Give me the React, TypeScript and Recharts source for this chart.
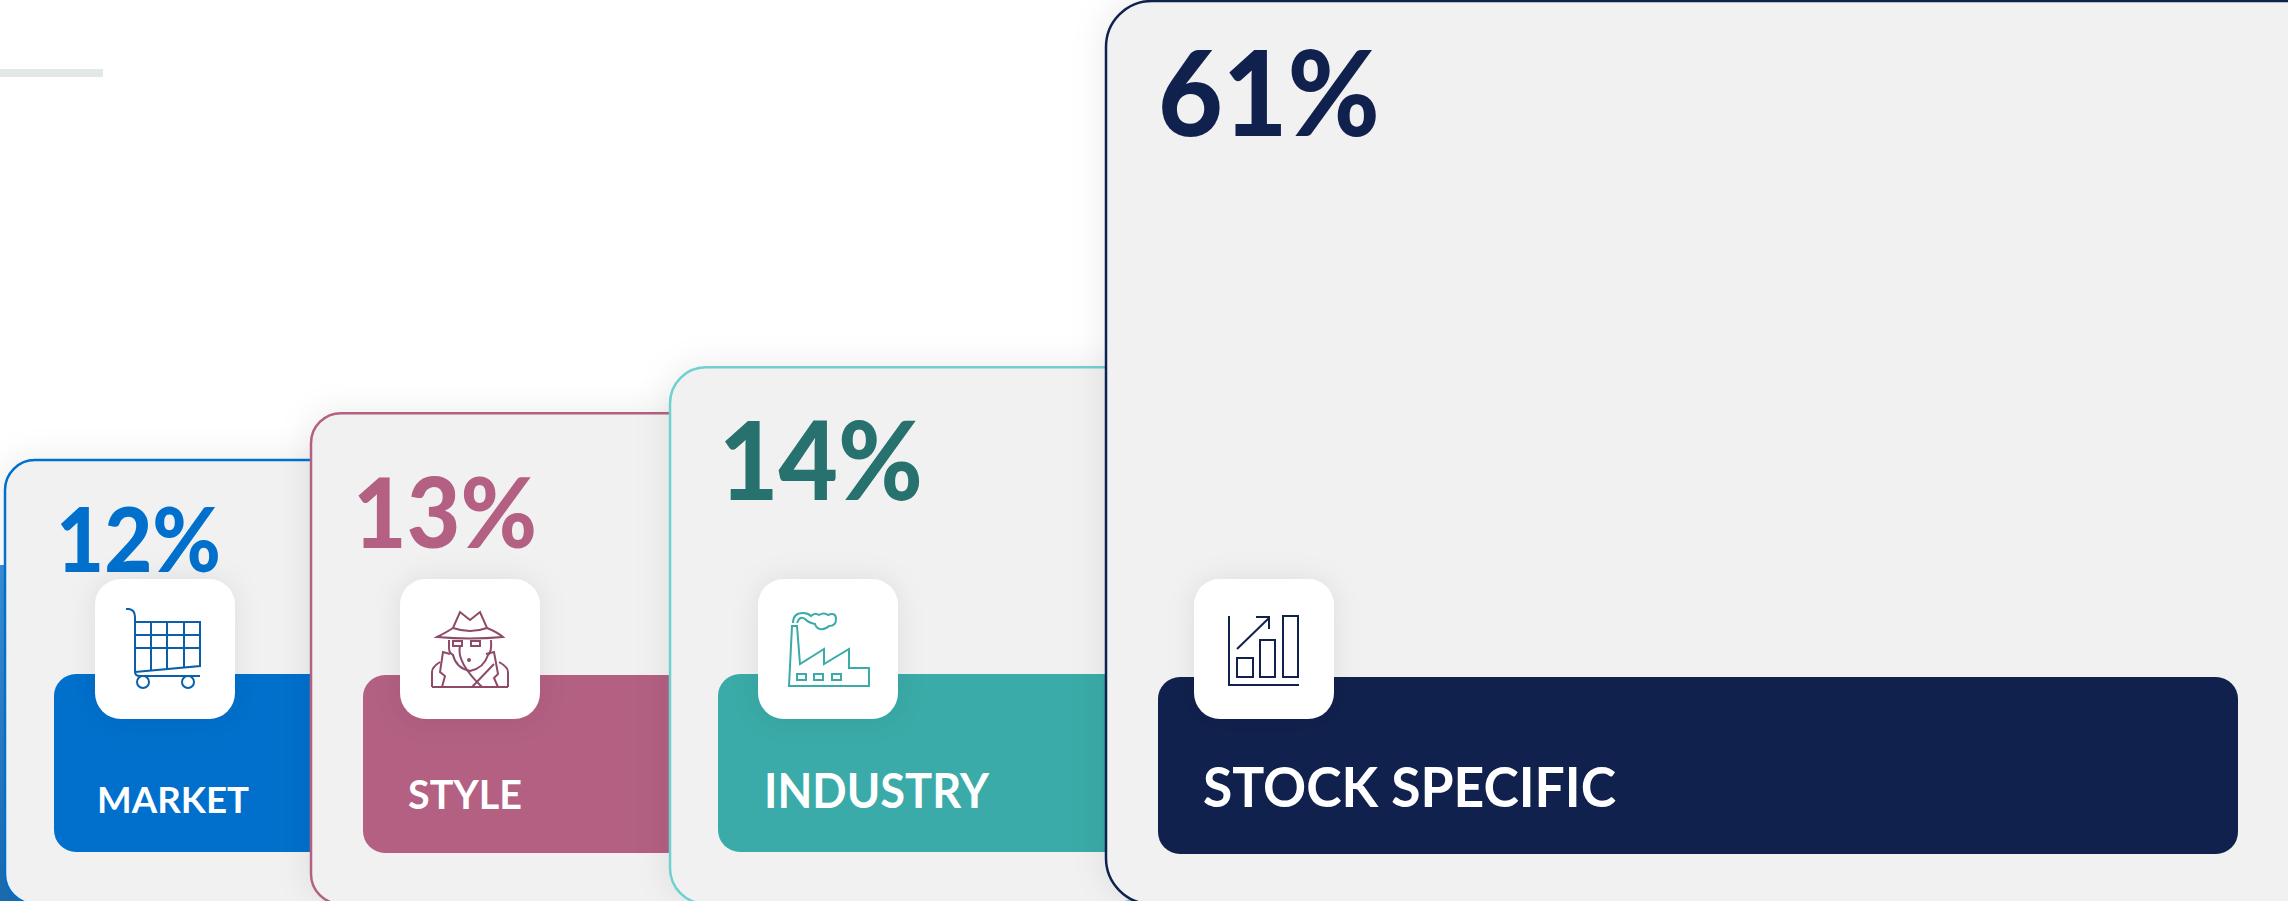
import React from 'react';
import { BarChart, Bar, XAxis, YAxis } from 'recharts';

const categories = ['MARKET', 'STYLE', 'INDUSTRY', 'STOCK SPECIFIC'];
const shares = [12, 13, 14, 61];

const chartData = categories.map((name, i) => ({ name, share: shares[i] }));

// the source picture is not drawn to scale, so the value axis is stepped
const scaleStops: [number, number][] = [
  [0, 0],
  [12, 0.49],
  [13, 0.542],
  [14, 0.593],
  [61, 1],
];

function steppedScale(domainIn: number[] = [0, 61], rangeIn: number[] = [901, 1]) {
  let d = domainIn;
  let r = rangeIn;
  const fn: any = (v: number) => {
    let t = 1;
    for (let i = 1; i < scaleStops.length; i++) {
      const [v0, t0] = scaleStops[i - 1];
      const [v1, t1] = scaleStops[i];
      if (v <= v1) {
        t = t0 + ((v - v0) / (v1 - v0)) * (t1 - t0);
        break;
      }
    }
    return r[0] + t * (r[1] - r[0]);
  };
  fn.domain = (x?: number[]) => {
    if (x === undefined) return d;
    d = x;
    return fn;
  };
  fn.range = (x?: number[]) => {
    if (x === undefined) return r;
    r = x;
    return fn;
  };
  fn.copy = () => steppedScale(d, r);
  fn.ticks = () => shares;
  return fn;
}

const FONT = 'Lato, "Open Sans", sans-serif';

const cardStyles = [
  {
    border: '#0070cc', panel: '#0070cc', number: '#0070cc', icon: '#0a5fa8', radius: 30,
    left: 5, right: 360, panelLeft: 54, panelRight: 340, panelTop: 674, panelBottom: 852,
    boxLeft: 95,
    numX: 56, numBase: 572, numSize: 90, numWidth: 165,
    labelX: 97, labelBase: 813, labelSize: 37, labelWidth: 152,
    iconX: 126, iconY: 609,
  },
  {
    border: '#b36082', panel: '#b36082', number: '#b36082', icon: '#8e4a68', radius: 30,
    left: 311, right: 720, panelLeft: 363, panelRight: 700, panelTop: 675, panelBottom: 853,
    boxLeft: 400,
    numX: 353, numBase: 548, numSize: 97, numWidth: 184,
    labelX: 408, labelBase: 809, labelSize: 41, labelWidth: 114,
    iconX: 432, iconY: 612,
  },
  {
    border: '#6fd0cd', panel: '#3aaba8', number: '#27726f', icon: '#3aaba8', radius: 36,
    left: 670, right: 1150, panelLeft: 718, panelRight: 1130, panelTop: 674, panelBottom: 852,
    boxLeft: 758,
    numX: 719, numBase: 500, numSize: 108, numWidth: 204,
    labelX: 764, labelBase: 808, labelSize: 47, labelWidth: 225,
    iconX: 789, iconY: 612,
  },
  {
    border: '#10214d', panel: '#10214d', number: '#10214d', icon: '#10214d', radius: 46,
    left: 1106, right: 2360, panelLeft: 1158, panelRight: 2238, panelTop: 677, panelBottom: 854,
    boxLeft: 1194,
    numX: 1158, numBase: 136, numSize: 118, numWidth: 222,
    labelX: 1203, labelBase: 807, labelSize: 55, labelWidth: 413,
    iconX: 1229, iconY: 616,
  },
];

const BOX_TOP = 579;
const BOX_SIZE = 140;

const CartIcon = ({ color }: { color: string }) => (
  <g fill="none" stroke={color} strokeWidth={2}>
    <path d="M0 0 H3 Q9 1 9 8 V63 Q9 67 14 67 H74" />
    <path d="M9 13 H74 V57 L9 63" />
    <path d="M9 26 H74 M9 39 H74 M25 13 V61 M41 13 V60 M58 13 V58" />
    <circle cx={17} cy={73} r={6} />
    <circle cx={62} cy={73} r={6} />
  </g>
);

const AgentIcon = ({ color }: { color: string }) => (
  <g fill="none" stroke={color} strokeWidth={2}>
    <path d="M0 25 Q10 20 16 16 L23 0 L33 8 L43 0 L50 16 Q60 20 66 25 Q33 28 0 25 Z" transform="translate(5 0)" />
    <path d="M21 16 Q38 22 55 16" />
    <path d="M17 28 V36 Q17 41 21 43 Q24 56 38 59 Q52 56 56 43 Q60 40 59 28" />
    <rect x={21} y={29} width={9} height={5} />
    <rect x={39} y={29} width={9} height={5} />
    <path d="M28 34 Q24 50 50 75 M54 42 L62 40 L66 62 L62 66 L66 75 M18 42 L11 40 L8 60 L13 64 L10 75 M0 75 V60 Q0 55 8 50 M76 75 V60 Q76 55 67 50 M0 75 H76 M40 75 L62 52" />
    <circle cx={37} cy={48} r={1} />
  </g>
);

const FactoryIcon = ({ color }: { color: string }) => (
  <g fill="none" stroke={color} strokeWidth={2}>
    <path d="M0 74 L3 14 H8 L11 52 L35 37 V52 L60 37 V56 H80 V74 Z" />
    <rect x={8} y={62} width={9} height={6} />
    <rect x={25} y={62} width={9} height={6} />
    <rect x={43} y={62} width={9} height={6} />
    <path d="M4 11 Q4 1 14 1 Q19 1 22 4 Q26 0 30 3 Q35 0 39 3 Q47 0 47 7 Q47 14 40 14 Q36 18 31 17 Q27 16 26 12 Q20 11 16 7 Q11 3 8 11" />
  </g>
);

const ChartIcon = ({ color }: { color: string }) => (
  <g fill="none" stroke={color} strokeWidth={2}>
    <path d="M0 0 V69 H70" />
    <rect x={8} y={42} width={16} height={19} />
    <rect x={31} y={24} width={15} height={37} />
    <rect x={54} y={0} width={15} height={61} />
    <path d="M8 33 L40 2 M27 1 H40 V13" />
  </g>
);

const cardIcons = [CartIcon, AgentIcon, FactoryIcon, ChartIcon];

// the library gives the top of each card, the layout table the rest
const CardShape = (props: any) => {
  const { y, index, payload } = props;
  const s = cardStyles[index];
  const Icon = cardIcons[index];
  return (
    <g>
      <rect
        x={s.left}
        y={y}
        width={s.right - s.left}
        height={901 - y + 3}
        rx={s.radius}
        ry={s.radius}
        fill="#f1f1f1"
        stroke={s.border}
        strokeWidth={2.5}
        filter="url(#cardShadow)"
      />
      <text
        x={s.numX}
        y={s.numBase}
        fontFamily={FONT}
        fontWeight={900}
        fontSize={s.numSize}
        fill={s.number}
        textLength={s.numWidth}
        lengthAdjust="spacingAndGlyphs"
      >
        {payload.share}%
      </text>
      <rect
        x={s.panelLeft}
        y={s.panelTop}
        width={s.panelRight - s.panelLeft}
        height={s.panelBottom - s.panelTop}
        rx={22}
        fill={s.panel}
      />
      <rect
        x={s.boxLeft}
        y={BOX_TOP}
        width={BOX_SIZE}
        height={BOX_SIZE}
        rx={26}
        fill="#ffffff"
        filter="url(#boxShadow)"
      />
      <g transform={`translate(${s.iconX} ${s.iconY})`}>
        <Icon color={s.icon} />
      </g>
      <text
        x={s.labelX}
        y={s.labelBase}
        fontFamily={FONT}
        fontWeight={700}
        fontSize={s.labelSize}
        fill="#ffffff"
        textLength={s.labelWidth}
        lengthAdjust="spacingAndGlyphs"
      >
        {payload.name}
      </text>
    </g>
  );
};

export default function App() {
  return (
    <div style={{ position: 'absolute', left: 0, top: 0, width: 2288, height: 901, background: '#ffffff' }}>
      <BarChart
        width={2288}
        height={901}
        data={chartData}
        margin={{ top: 1, right: 0, bottom: 0, left: 0 }}
      >
        <defs>
          <linearGradient id="edgeBlue" x1="0" y1="0" x2="0" y2="1">
            <stop offset="0%" stopColor="#3a8fd9" />
            <stop offset="100%" stopColor="#1a6cb0" />
          </linearGradient>
          <filter id="cardShadow" x="-15%" y="-15%" width="130%" height="130%">
            <feDropShadow dx={-3} dy={-2} stdDeviation={16} floodColor="#000000" floodOpacity={0.07} />
          </filter>
          <filter id="boxShadow" x="-40%" y="-40%" width="180%" height="180%">
            <feDropShadow dx={0} dy={0} stdDeviation={14} floodColor="#000000" floodOpacity={0.08} />
          </filter>
        </defs>
        <rect x={0} y={69} width={103} height={8} fill="#e2e8e4" />
        <rect x={0} y={565} width={40} height={336} fill="url(#edgeBlue)" />
        <XAxis dataKey="name" hide />
        <YAxis hide domain={[0, 61]} scale={steppedScale() as any} />
        <Bar dataKey="share" isAnimationActive={false} shape={CardShape} />
      </BarChart>
    </div>
  );
}
